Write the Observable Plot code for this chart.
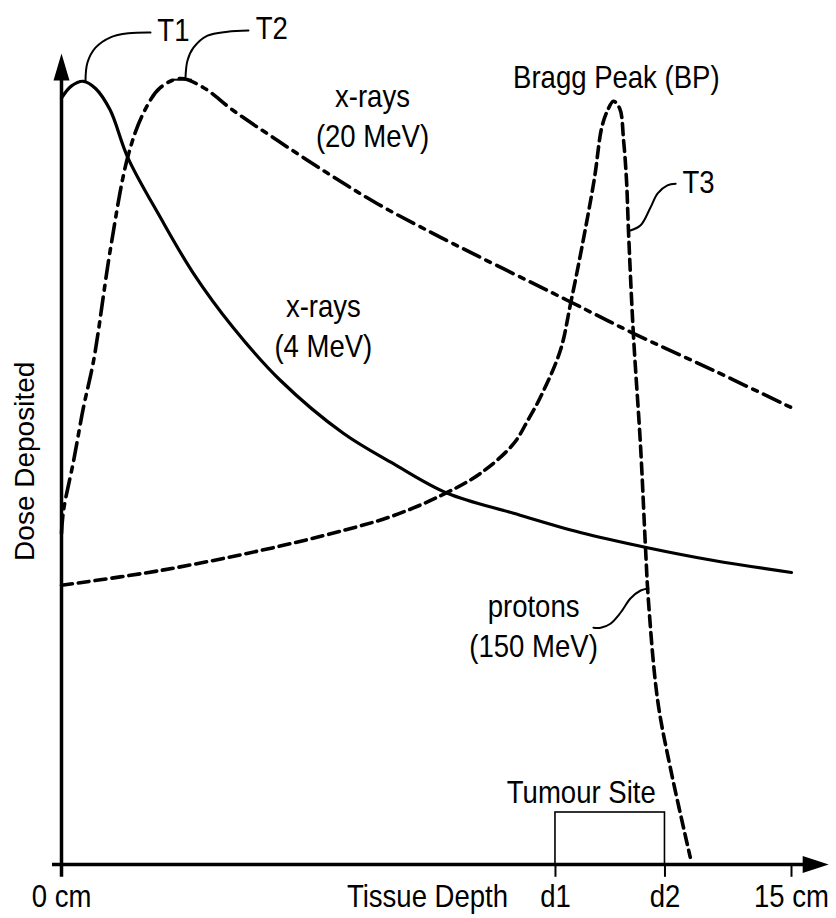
<!DOCTYPE html>
<html><head><meta charset="utf-8">
<script src="https://cdn.jsdelivr.net/npm/d3@7"></script>
<script src="https://cdn.jsdelivr.net/npm/@observablehq/plot@0.6"></script>
<style>body{margin:0;background:#fff}</style>
</head><body><div id="chart"></div>
<script>
// ---- data (depth in cm, dose in arbitrary units 0..100) ----
const xray4Depth = [0, 0.2, 0.45, 0.7, 1.0, 1.36, 2.03, 2.71, 3.53, 4.5, 5.79, 6.82, 7.93, 9.29, 10.66, 12.04, 13.4, 15.0];
const xray4Dose  = [95.8, 97.3, 97.9, 97.0, 94.3, 88.4, 80.9, 73.9, 67.1, 60.5, 53.9, 50.1, 46.4, 43.9, 41.5, 39.6, 38.0, 36.5];

const xray20Depth = [0, 0.04, 0.25, 0.45, 0.66, 1.01, 1.36, 1.68, 2.03, 2.45, 2.92, 3.53, 4.44, 5.47, 6.49, 7.79, 10.4, 11.75, 13.4, 15.0];
const xray20Dose  = [41.4, 44.2, 50.5, 57.1, 63.0, 77.1, 88.4, 93.9, 97.1, 98.25, 97.1, 94.25, 90.5, 86.4, 82.6, 78.4, 70.5, 66.4, 61.75, 57.1];

const protonDepth = [0, 2.03, 4.09, 5.79, 6.82, 7.79, 8.61, 9.29, 9.58, 9.84, 10.25, 10.46, 10.68, 10.95, 11.10, 11.22, 11.34, 11.47, 11.55, 11.61, 11.65, 11.75, 11.90, 12.0, 12.06, 12.25, 12.51, 12.92];
const protonDose  = [34.9, 36.75, 39.25, 41.75, 43.6, 46.1, 48.9, 52.6, 55.5, 58.4, 64.25, 70.1, 76.75, 85.75, 92.1, 94.25, 95.4, 94.5, 90.5, 85.5, 79.25, 66.4, 52.1, 39.6, 33.0, 20.5, 12.1, 0.9];

const xTickValues = [0, 10.15, 12.4, 15];
const xTickLabels = ["0 cm", "d1", "d2", "15 cm"];

const tumourSite = [10.15, 12.4];   // d1 .. d2
const tumourHeight = 6.5;

// callout leader curves
const leaderT1X = [0.493, 0.534, 0.699, 1.007, 1.377, 1.829];
const leaderT1Y = [98, 100.25, 102.1, 103.4, 103.9, 104];
const leaderT2X = [2.548, 2.589, 2.712, 3.0, 3.411, 3.842];
const leaderT2Y = [98.4, 100.5, 102.1, 103.6, 104.1, 104.25];
const leaderT3X = [11.69, 11.90, 12.10, 12.25, 12.45, 12.62];
const leaderT3Y = [79.25, 79.9, 82.1, 83.9, 84.9, 85.1];
const leaderPX  = [12.06, 11.90, 11.69, 11.49, 11.28, 11.08, 10.93];
const leaderPY  = [34.5, 34.25, 33.25, 31.5, 30.1, 29.6, 29.6];

const labelTexts = ["x-rays\n(20 MeV)", "x-rays\n(4 MeV)", "protons\n(150 MeV)", "Bragg Peak (BP)", "Tumour Site", "Tissue Depth"];
const labelX     = [6.39, 5.38, 9.70, 11.40, 10.68, 7.52];
const labelY     = [89.75, 63.5, 25.9, 97.1, 7.75, -5.25];

const calloutTexts = ["T1", "T2", "T3"];
const calloutX = [1.97, 3.99, 12.76];
const calloutY = [103, 103.25, 84];

// ---- build tables ----
const zip = (xs, ys) => xs.map((x, i) => ({x, y: ys[i]}));
const xray4 = zip(xray4Depth, xray4Dose);
const xray20 = zip(xray20Depth, xray20Dose);
const protons = zip(protonDepth, protonDose);
const leaders = [zip(leaderT1X, leaderT1Y), zip(leaderT2X, leaderT2Y), zip(leaderT3X, leaderT3Y), zip(leaderPX, leaderPY)];
const labels = labelTexts.map((t, i) => ({t, x: labelX[i], y: labelY[i]}));
const callouts = calloutTexts.map((t, i) => ({t, x: calloutX[i], y: calloutY[i]}));
const ticks = xTickValues.map((x, i) => ({x, t: xTickLabels[i]}));

const FONT = '"Liberation Sans", Arial, Helvetica, sans-serif';
const FS = 32;

const upHead = {draw(ctx) { ctx.moveTo(0, -27); ctx.lineTo(8, 0); ctx.lineTo(-8, 0); ctx.closePath(); }};
const rightHead = {draw(ctx) { ctx.moveTo(26, 0); ctx.lineTo(0, -8.5); ctx.lineTo(0, 8.5); ctx.closePath(); }};

const chart = Plot.plot({
  width: 836,
  height: 918,
  marginLeft: 61,
  marginRight: 45,
  marginTop: 64,
  marginBottom: 54,
  x: {domain: [0, 15], axis: null},
  y: {domain: [0, 100], axis: null},
  style: {background: "#fff", color: "#000"},
  marks: [
    // axes
    Plot.ruleY([0], {x1: -0.185, x2: 15.3, stroke: "#000", strokeWidth: 3.5}),
    Plot.ruleX([0], {y1: -1.6, y2: 98.5, stroke: "#000", strokeWidth: 3.5}),
    Plot.dot([{x: 0, y: 98}], {x: "x", y: "y", symbol: upHead, fill: "#000", stroke: null}),
    Plot.dot([{x: 15.23, y: 0}], {x: "x", y: "y", symbol: rightHead, fill: "#000", stroke: null}),
    Plot.ruleX(ticks.slice(1), {x: "x", y1: -1.6, y2: 0, stroke: "#000", strokeWidth: 2}),
    Plot.text(ticks, {x: "x", y: -5.25, text: "t", lineAnchor: "bottom", fontSize: FS, fontFamily: FONT, fill: "#000"}),
    // tumour site box
    Plot.rect([{x1: tumourSite[0], x2: tumourSite[1], y1: 0, y2: tumourHeight}], {x1: "x1", x2: "x2", y1: "y1", y2: "y2", fill: "none", stroke: "#000", strokeWidth: 1.6}),
    // curves
    Plot.line(xray4, {x: "x", y: "y", curve: "catmull-rom", stroke: "#000", strokeWidth: 3.2}),
    Plot.line(xray20, {x: "x", y: "y", curve: "catmull-rom", stroke: "#000", strokeWidth: 3.6, strokeDasharray: "18,7,5,7"}),
    Plot.line(protons, {x: "x", y: "y", curve: "catmull-rom", stroke: "#000", strokeWidth: 3.6, strokeDasharray: "11,6"}),
    // leaders
    ...leaders.map(L => Plot.line(L, {x: "x", y: "y", curve: "catmull-rom", stroke: "#000", strokeWidth: 2})),
    Plot.ruleY([98.1], {x1: 2.30, x2: 2.69, stroke: "#000", strokeWidth: 2}),
    // labels
    Plot.text(labels, {x: "x", y: "y", text: "t", lineAnchor: "bottom", lineHeight: 1.25, fontSize: FS, fontFamily: FONT, fill: "#000"}),
    Plot.text(callouts, {x: "x", y: "y", text: "t", textAnchor: "start", lineAnchor: "bottom", fontSize: FS, fontFamily: FONT, fill: "#000"}),
    Plot.text(["Dose Deposited"], {x: -0.575, y: 50.4, text: d => d, rotate: -90, lineAnchor: "bottom", fontSize: 28, fontFamily: FONT, fill: "#000"})
  ]
});
document.getElementById("chart").appendChild(chart);

// the original lettering is a condensed sans: narrow the horizontal texts
const squeeze = 0.86;
d3.select(chart).selectAll("text").each(function() {
  const tr = this.getAttribute("transform") || "";
  if (tr.includes("rotate")) return;
  const spans = this.querySelectorAll("tspan");
  const nodes = spans.length ? Array.from(spans) : [this];
  nodes.forEach(n => {
    const L = n.getComputedTextLength();
    if (L > 0) {
      n.setAttribute("textLength", (L * squeeze).toFixed(1));
      n.setAttribute("lengthAdjust", "spacingAndGlyphs");
    }
  });
});
</script>
</body></html>
